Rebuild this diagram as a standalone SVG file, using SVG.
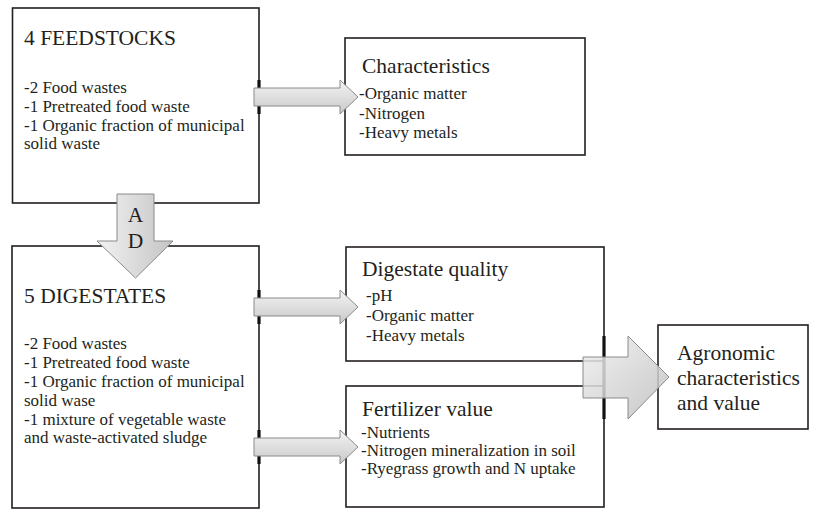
<svg xmlns="http://www.w3.org/2000/svg" width="818" height="509" viewBox="0 0 818 509">
  <style>
    .box { fill: #ffffff; stroke: #231f20; stroke-width: 1.6; }
    .joint { stroke: #111111; stroke-width: 3.2; }
    .arrow { stroke: #8a8a8a; stroke-width: 1; }
    .head { font-size: 21.5px; fill: #231f20; }
    .body { font-size: 17px; fill: #231f20; }
  </style>
  <defs>
    <linearGradient id="gradH" x1="0" y1="0" x2="0" y2="1">
      <stop offset="0" stop-color="#f4f4f4"/>
      <stop offset="1" stop-color="#c9c9c9"/>
    </linearGradient>
    <linearGradient id="gradV" x1="0" y1="0" x2="1" y2="0">
      <stop offset="0" stop-color="#f2f2f2"/>
      <stop offset="1" stop-color="#c4c4c4"/>
    </linearGradient>
    <linearGradient id="gradBig" x1="0" y1="0" x2="1" y2="1">
      <stop offset="0" stop-color="#f0f0f0"/>
      <stop offset="1" stop-color="#bdbdbd"/>
    </linearGradient>
  </defs>

  <g font-family="Liberation Serif, DejaVu Serif, serif">
  <!-- feedstocks -->
  <g id="feedstocks">
    <rect class="box" x="12.5" y="8" width="246.5" height="195"/>
    <text class="head" x="24" y="45">4 FEEDSTOCKS</text>
    <text class="body" x="24" y="93">-2 Food wastes</text>
    <text class="body" x="24" y="112">-1 Pretreated food waste</text>
    <text class="body" x="24" y="130.5">-1 Organic fraction of municipal</text>
    <text class="body" x="24" y="149">solid waste</text>
  </g>

  <!-- characteristics -->
  <g id="characteristics">
    <rect class="box" x="345" y="38" width="240" height="117"/>
    <text class="head" x="362" y="73">Characteristics</text>
    <text class="body" x="359" y="99">-Organic matter</text>
    <text class="body" x="359" y="119">-Nitrogen</text>
    <text class="body" x="359" y="138">-Heavy metals</text>
  </g>

  <!-- digestates -->
  <g id="digestates">
    <rect class="box" x="12" y="246" width="247" height="262"/>
    <text class="head" x="24" y="303">5 DIGESTATES</text>
    <text class="body" x="24" y="349">-2 Food wastes</text>
    <text class="body" x="24" y="368">-1 Pretreated food waste</text>
    <text class="body" x="24" y="387">-1 Organic fraction of municipal</text>
    <text class="body" x="24" y="406">solid wase</text>
    <text class="body" x="24" y="424.5">-1 mixture of vegetable waste</text>
    <text class="body" x="24" y="443">and waste-activated sludge</text>
  </g>

  <!-- digestate quality -->
  <g id="digestate-quality">
    <rect class="box" x="346" y="247" width="258" height="114"/>
    <text class="head" x="362" y="276">Digestate quality</text>
    <text class="body" x="366" y="301">-pH</text>
    <text class="body" x="366" y="321">-Organic matter</text>
    <text class="body" x="366" y="341">-Heavy metals</text>
  </g>

  <!-- fertilizer value -->
  <g id="fertilizer-value">
    <rect class="box" x="346" y="386" width="258" height="121"/>
    <text class="head" x="362" y="416">Fertilizer value</text>
    <text class="body" x="361" y="438">-Nutrients</text>
    <text class="body" x="361" y="456">-Nitrogen mineralization in soil</text>
    <text class="body" x="361" y="474">-Ryegrass growth and N uptake</text>
  </g>

  <!-- agronomic -->
  <g id="agronomic">
    <rect class="box" x="658" y="325" width="150" height="104"/>
    <text class="head" x="677" y="360">Agronomic</text>
    <text class="head" x="677" y="385">characteristics</text>
    <text class="head" x="677" y="410">and value</text>
  </g>

  <!-- connectors -->
  <g id="connectors">
    <!-- attachment marks on box edges -->
    <line class="joint" x1="259" y1="80" x2="259" y2="114"/>
    <line class="joint" x1="259" y1="290" x2="259" y2="324"/>
    <line class="joint" x1="259" y1="430" x2="259" y2="464"/>
    <line class="joint" x1="604" y1="336" x2="604" y2="419"/>

    <path class="arrow" fill="url(#gradH)" d="M254,88 H340 V80 L358,97 L340,114 V106 H254 Z"/>
    <path class="arrow" fill="url(#gradV)" d="M117,194 H154 V241 H173 L135.5,278 L97,241 H117 Z"/>
    <text class="head" x="135.5" y="222" text-anchor="middle">A</text>
    <text class="head" x="135.5" y="248" text-anchor="middle">D</text>
    <path class="arrow" fill="url(#gradH)" d="M254,298 H340 V290 L358,307 L340,324 V316 H254 Z"/>
    <path class="arrow" fill="url(#gradH)" d="M254,438 H340 V430 L358,447 L340,464 V456 H254 Z"/>
    <path class="arrow" fill="url(#gradBig)" fill-opacity="0.85" d="M583,357 H628 V336 L669,377 L628,419 V398 H583 Z"/>
  </g>
  </g>
</svg>
